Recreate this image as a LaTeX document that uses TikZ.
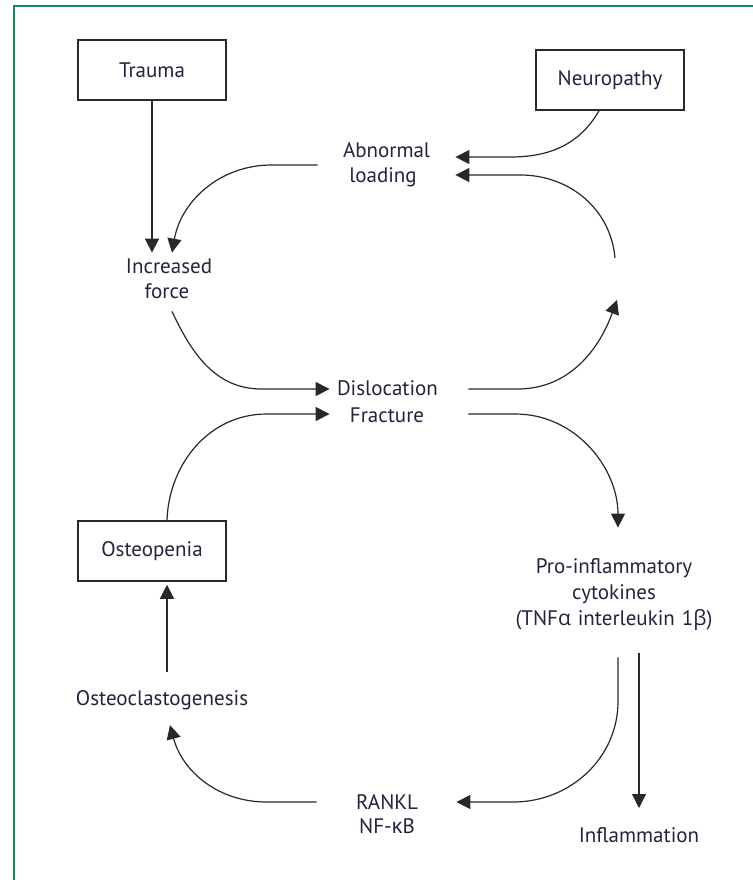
\documentclass[tikz,border=0pt]{standalone}
\usepackage{fontspec}
\setmainfont{PT Sans}
\newfontfamily\greek{Open Sans}
\usetikzlibrary{arrows.meta,calc}
\definecolor{framegreen}{RGB}{25,135,80}
\definecolor{inkblue}{RGB}{35,35,60}
\definecolor{linegray}{RGB}{40,40,40}
\begin{document}
\begin{tikzpicture}[>={Triangle[length=7pt,width=7pt]}, x=.5pt, y=.5pt,
    box/.style={draw=linegray, line width=.75pt, minimum width=74pt, minimum height=30pt, inner sep=0pt, text=inkblue, font=\fontsize{10.5}{12.5}\selectfont},
    lbl/.style={inner sep=0pt, align=center, text=inkblue, font=\fontsize{10.5}{12.5}\selectfont},
    link/.style={draw=linegray, line width=.6pt}]
    \useasboundingbox (0,0) rectangle (753,-880);
    \clip (0,0) rectangle (753,-880);
    \draw [framegreen, line width=1pt] (14,-6) rectangle (780,-900);

    % boxes
    \node [box] (trauma) at (152,-70) {Trauma};
    \node [box] (neuro) at (610,-80) {Neuropathy};
    \node [box] (osteo) at (152,-551) {Osteopenia};

    % labels
    \node [lbl, text width=41pt] (inc) at (167,-279) {Increased\\force};
    \node [lbl, text width=40pt] (abn) at (383,-165) {Abnormal\\loading};
    \node [lbl, text width=50pt, font=\fontsize{10.5}{13.5}\selectfont] (df) at (387,-402) {Dislocation\\Fracture};
    \node [lbl, text width=100pt, font=\fontsize{10.5}{13}\selectfont] (pro) at (614,-595) {Pro-inflammatory\\cytokines\\(TNF{\greek α} interleukin 1{\greek β})};
    \node [lbl] (infl) at (639,-835) {Inflammation};
    \node [lbl, text width=31pt, font=\fontsize{10.5}{12}\selectfont] (rankl) at (387,-814) {RANKL\\NF-{\greek κ}B};
    \node [lbl] (oclast) at (162,-700) {Osteoclastogenesis};
    \coordinate (gapTop) at (615,-258);
    \coordinate (gapBot) at (617,-300);

    % connectors
    \draw [link, ->] (trauma.south) -- ($(inc.north)+(-15,6)$);
    \draw [link, ->] ($(abn.west)+(-25,0)$) -- ++(-46,0) to[out=180, in=80] ($(inc.north)+(5,6)$);
    \draw [link, ->] ($(neuro.south)+(-11,0)$) to[out=-120, in=0] ($(abn.east)+(87,8)$) -- ($(abn.east)+(32,8)$);
    \draw [link, ->] (gapTop) to[out=95, in=0] ($(abn.east)+(97,-10)$) -- ($(abn.east)+(32,-10)$);
    \draw [link, ->] ($(inc.south)+(5,-12)$) to[out=-65, in=180] ($(df.west)+(-75,13)$) -- ($(df.west)+(-7,13)$);
    \draw [link, ->] ($(osteo.north)+(15,0)$) to[out=88, in=180] ($(df.west)+(-70,-12)$) -- ($(df.west)+(-7,-12)$);
    \draw [link, ->] ($(df.east)+(31,13)$) -- ($(df.east)+(80,13)$) to[out=0, in=250] (gapBot);
    \draw [link, ->] ($(df.east)+(31,-12)$) -- ($(df.east)+(78,-12)$) to[out=0, in=90] ($(pro.north)+(4,31)$);
    \draw [link, ->] ($(pro.south)+(4,-26)$) -- ++(0,-44) to[out=-90, in=0] ($(rankl.east)+(95,12)$) -- ($(rankl.east)+(38,12)$);
    \draw [link, ->] ($(pro.south)+(25,-22)$) -- ($(infl.north)+(0,19)$);
    \draw [link, ->] ($(rankl.west)+(-39,12)$) -- ++(-50,0) to[out=180, in=-75] ($(oclast.south)+(8,-15)$);
    \draw [link, ->] ($(oclast.north)+(5,18)$) -- ($(osteo.south)+(15,-3)$);
\end{tikzpicture}
\end{document}
